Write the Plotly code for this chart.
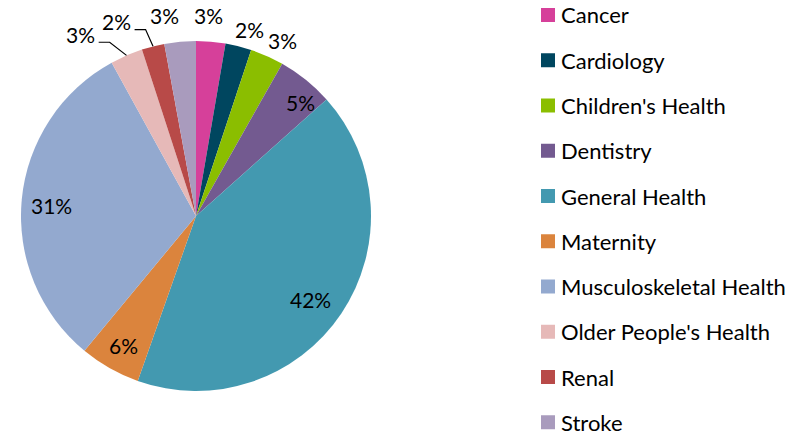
import math
import plotly.graph_objects as go

categories = ["Cancer", "Cardiology", "Children's Health", "Dentistry", "General Health",
              "Maternity", "Musculoskeletal Health", "Older People's Health", "Renal", "Stroke"]
values = [2.7, 2.4, 3.1, 5.2, 42.0, 5.6, 31.0, 3.0, 2.1, 2.9]
colors = ["#D6409A", "#00465F", "#8BBE00", "#735A90", "#4399B0",
          "#DB843D", "#93A9CF", "#E6B9B8", "#B84A48", "#A99BBD"]

# label placement style (radius factor, angular nudge in degrees, leader line)
label_rf = [1.15, 1.11, 1.12, 0.88, 0.81, 0.85, 0.83, 1.23, 1.20, 1.16]
label_da = [-1.2, 1.8, 2.4, 3.9, 2.4, -0.2, -1.1, -9.0, -8.0, -3.8]
label_leader = [False, False, False, False, False, False, False, True, True, False]

FONT = "Lato, 'Open Sans', sans-serif"
W, H = 796, 436
# pie box in pixels
PX0, PX1, PY0, PY1 = 21, 371, 41, 391
CX, CY, R = (PX0 + PX1) / 2, (PY0 + PY1) / 2, (PX1 - PX0) / 2


def px(x):
    return x / W


def py(y):
    return 1 - y / H


fig = go.Figure()
fig.add_trace(go.Pie(
    labels=categories, values=values, sort=False, direction="clockwise", rotation=0,
    marker=dict(colors=colors, line=dict(width=0)),
    textinfo="none", showlegend=False,
    domain=dict(x=[px(PX0), px(PX1)], y=[py(PY1), py(PY0)]),
    hoverinfo="label+percent",
))

annotations = []
shapes = []
total = sum(values)
cum = 0.0
for i, v in enumerate(values):
    mid = (cum + v / 2) / total * 360.0
    cum += v
    pct = f"{round(v / total * 100):d}%"
    a = math.radians(mid + label_da[i])
    lx = CX + R * label_rf[i] * math.sin(a)
    ly = CY - R * label_rf[i] * math.cos(a)
    annotations.append(dict(x=px(lx), y=py(ly), xref="paper", yref="paper", text=pct,
                            showarrow=False, xanchor="center", yanchor="middle",
                            font=dict(family=FONT, size=21, color="black")))
    if label_leader[i]:
        am = math.radians(mid)
        tx = CX + R * math.sin(am)
        ty = CY - R * math.cos(am)
        sx, sy = lx + 18, ly + 8
        ex = sx + 11
        path = f"M {px(sx)} {py(sy)} L {px(ex)} {py(sy)} L {px(tx)} {py(ty)}"
        shapes.append(dict(type="path", path=path, xref="paper", yref="paper",
                           line=dict(color="black", width=1.2)))

# legend
LEG_Y0, LEG_STEP = 15, 45.25
for i, (cat, col) in enumerate(zip(categories, colors)):
    yc = LEG_Y0 + LEG_STEP * i
    shapes.append(dict(type="rect", xref="paper", yref="paper",
                       x0=px(541), x1=px(555), y0=py(yc + 7), y1=py(yc - 7),
                       fillcolor=col, line=dict(width=0)))
    annotations.append(dict(x=px(559), y=py(yc), xref="paper", yref="paper", text=cat,
                            showarrow=False, xanchor="left", yanchor="middle",
                            font=dict(family=FONT, size=22, color="black")))

fig.update_layout(
    width=W, height=H,
    margin=dict(l=0, r=0, t=0, b=0),
    paper_bgcolor="white", plot_bgcolor="white",
    annotations=annotations, shapes=shapes,
    font=dict(family=FONT),
    showlegend=False,
)

fig.write_html("out.html", config={"displayModeBar": False},
               post_script="document.body.style.margin='0';document.body.style.overflow='hidden';")
